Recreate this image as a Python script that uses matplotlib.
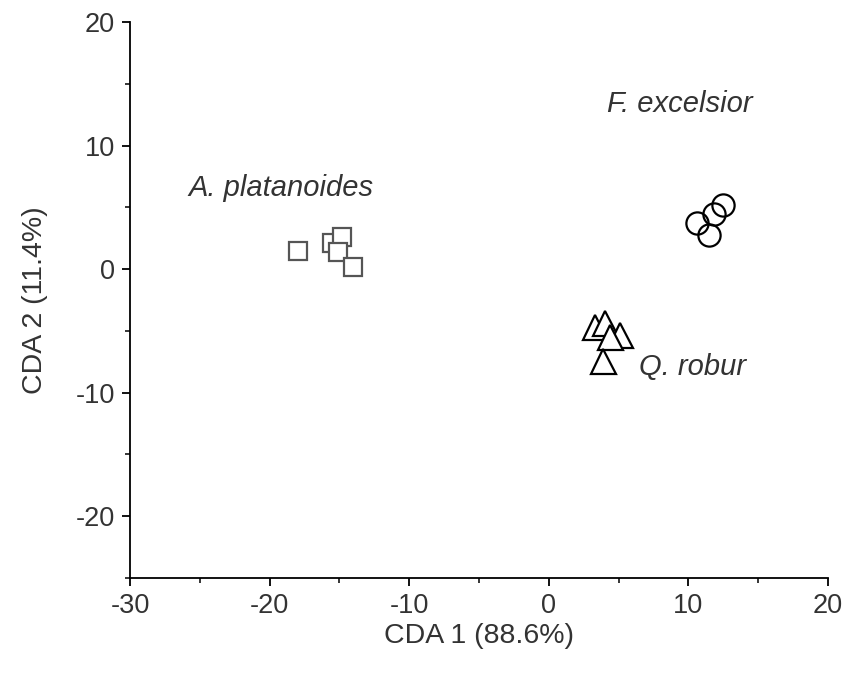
import matplotlib.pyplot as plt
from matplotlib.ticker import MultipleLocator

plt.rcParams['font.family'] = ['Liberation Sans', 'DejaVu Sans']
plt.rcParams['axes.unicode_minus'] = False
plt.rcParams['text.color'] = '#333333'

# CDA scores for each species
ap_x = [-18.0, -15.5, -14.8, -15.1, -14.0]
ap_y = [1.5, 2.1, 2.6, 1.4, 0.2]
qr_x = [3.3, 4.0, 5.1, 4.4, 3.9]
qr_y = [-4.7, -4.4, -5.3, -5.5, -7.4]
fe_x = [12.5, 11.8, 10.6, 11.5]
fe_y = [5.2, 4.5, 3.7, 2.8]

fig = plt.figure(figsize=(8.48, 6.74), dpi=100)
ax = fig.add_axes([0.1533, 0.1424, 0.8231, 0.825])

ax.plot(ap_x, ap_y, 's', markersize=13, markerfacecolor='white',
        markeredgecolor='#555555', markeredgewidth=1.6, linestyle='none')
ax.plot(qr_x, qr_y, '^', markersize=18, markerfacecolor='white',
        markeredgecolor='black', markeredgewidth=1.6, linestyle='none')
ax.plot(fe_x, fe_y, 'o', markersize=16, markerfacecolor='none',
        markeredgecolor='black', markeredgewidth=1.6, linestyle='none')

ax.text(-19.2, 6.6, 'A. platanoides', style='italic', fontsize=21, ha='center', va='center')
ax.text(9.4, 13.4, 'F. excelsior', style='italic', fontsize=21, ha='center', va='center')
ax.text(10.3, -7.9, 'Q. robur', style='italic', fontsize=21, ha='center', va='center')

ax.set_xlim(-30, 20)
ax.set_ylim(-25, 20)
ax.xaxis.set_major_locator(MultipleLocator(10))
ax.xaxis.set_minor_locator(MultipleLocator(5))
ax.yaxis.set_major_locator(MultipleLocator(10))
ax.yaxis.set_minor_locator(MultipleLocator(5))
ax.tick_params(which='major', direction='out', length=6, width=1.3, labelsize=19.5,
               labelcolor='#333333', pad=5)
ax.tick_params(which='minor', direction='out', length=3.5, width=1.1)
ax.spines['top'].set_visible(False)
ax.spines['right'].set_visible(False)
ax.spines['left'].set_linewidth(1.3)
ax.spines['bottom'].set_linewidth(1.3)

ax.set_xlabel('CDA 1 (88.6%)', fontsize=20.5, color='#333333', labelpad=3)
ax.set_ylabel('CDA 2 (11.4%)', fontsize=20.5, color='#333333', labelpad=20)

fig.savefig('out.png', dpi=100)
